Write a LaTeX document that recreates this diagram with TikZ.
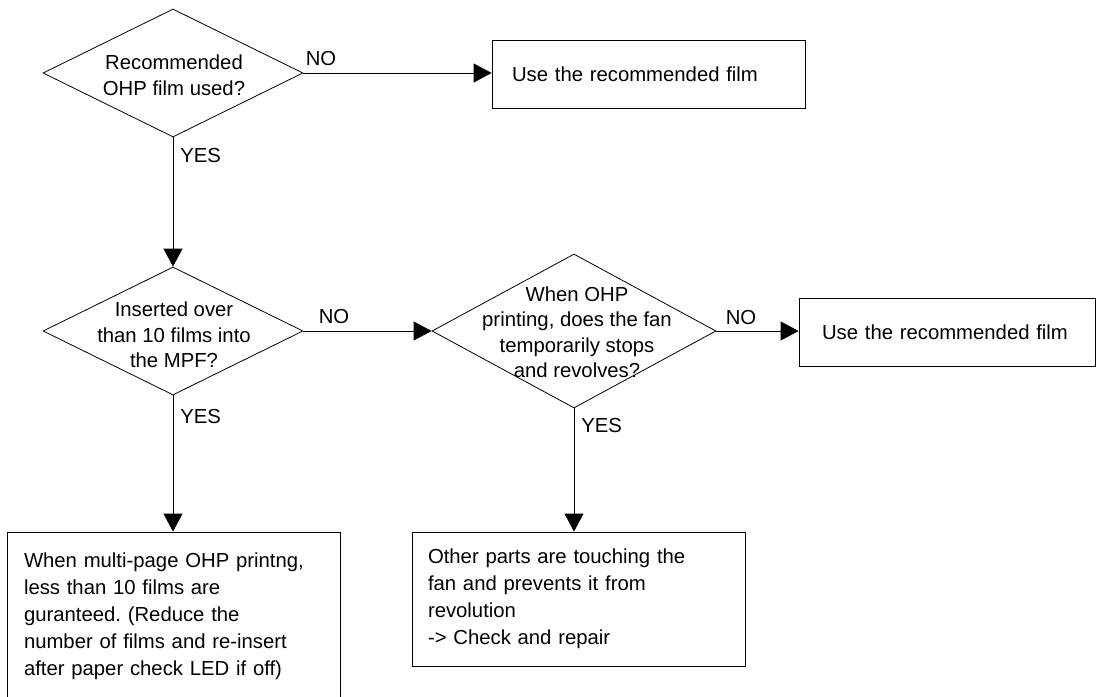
\documentclass[tikz,border=0pt]{standalone}
\usepackage{fontspec}
\setmainfont{Liberation Sans}
\usetikzlibrary{arrows.meta,shapes.geometric}
\frenchspacing

\begin{document}
\begin{tikzpicture}[x=1pt,y=-1pt,>={Triangle[length=18pt,width=19pt]},line width=0.8pt,
  dec/.style={draw,diamond,inner sep=0pt,minimum width=260pt,minimum height=128pt},
  dtext/.style={align=center,font=\fontsize{20.3}{25.5}\selectfont,inner sep=0pt},
  box/.style={draw,align=left,font=\fontsize{20.3}{27}\selectfont,inner ysep=0pt,minimum height=68pt},
  lab/.style={font=\fontsize{20.3}{24}\selectfont,inner sep=0pt}]
\useasboundingbox (0,0) rectangle (1097,696);
\node[dec] (D1) at (173,73) {};
\node[dtext] (T1) at (174,75) {Recommended\\OHP film used?};
\node[dec] (D2) at (173,331) {};
\node[dtext] (T2) at (174,335) {Inserted over\\than 10 films into\\the MPF?};
\node[dec,minimum width=284pt,minimum height=154pt] (D3) at (574,331) {};
\node[dtext] (T3) at (577,332) {When OHP\\printing, does the fan\\temporarily stops\\and revolves?};
\node[box,text width=273pt,inner xsep=20pt] (B1) at (648.5,74) {Use the recommended film};
\node[box,text width=250pt,inner xsep=23pt] (B2) at (947,332) {Use the recommended film};
\node[box,text width=299pt,inner xsep=17pt,minimum height=168pt] (B3) at (173.5,616) {When multi-page OHP printng,\\less than 10 films are\\guranteed. (Reduce the\\number of films and re-insert\\after paper check LED if off)};
\node[box,text width=301pt,inner xsep=16pt,minimum height=134pt] (B4) at (578.5,599) {Other parts are touching the\\fan and prevents it from\\revolution\\-> Check and repair};
\draw[->] (D1.east) -- (D1.east -| B1.west);
\draw[->] (D1.south) -- (D2.north);
\draw[->] (D2.east) -- (D3.west);
\draw[->] (D3.east) -- (D3.east -| B2.west);
\draw[->] (D2.south) -- (D2.south |- B3.north);
\draw[->] (D3.south) -- (D3.south |- B4.north);
\node[lab,anchor=base west] (N1) at ([xshift=2pt,yshift=8pt]D1.east) {NO};
\node[lab,anchor=base west] (N2) at ([xshift=15pt,yshift=8pt]D2.east) {NO};
\node[lab,anchor=base west] (N3) at ([xshift=9pt,yshift=7pt]D3.east) {NO};
\node[lab,anchor=north west] (Y1) at ([xshift=7pt,yshift=-11pt]D1.south) {YES};
\node[lab,anchor=north west] (Y2) at ([xshift=7pt,yshift=-14pt]D2.south) {YES};
\node[lab,anchor=north west] (Y3) at ([xshift=7pt,yshift=-10pt]D3.south) {YES};
\end{tikzpicture}
\end{document}
